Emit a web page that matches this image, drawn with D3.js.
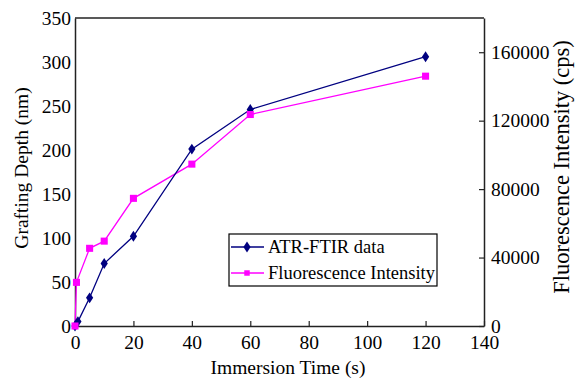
<!DOCTYPE html>
<html>
<head>
<meta charset="utf-8">
<script src="https://cdn.jsdelivr.net/npm/d3@7"></script>
<style>
  body { margin: 0; background: #fff; }
  svg text { font-family: "Liberation Serif", "Times New Roman", serif; fill: #000; }
</style>
</head>
<body>
<svg id="chart"></svg>
<script>
// immersion time (s)
const atrTime = [0, 1, 5, 10, 20, 40, 60, 120];
const atrDepth = [0, 5, 32, 71, 102, 201, 246, 306];
const fluoTime = [0, 0.5, 5, 10, 20, 40, 60, 120];
const fluoIntensity = [0, 25500, 45400, 49600, 74600, 94600, 123600, 146000];
const xTicks = [0, 20, 40, 60, 80, 100, 120, 140];
const leftTicks = [0, 50, 100, 150, 200, 250, 300, 350];
const rightTicks = [0, 40000, 80000, 120000, 160000];

const width = 576, height = 378;
const margin = { top: 18, right: 92, bottom: 52, left: 75 };
const innerW = width - margin.left - margin.right;
const innerH = height - margin.top - margin.bottom;
const serif = '"Liberation Serif", "Times New Roman", serif';

const svg = d3.select("#chart").attr("width", width).attr("height", height);
const g = svg.append("g").attr("transform", `translate(${margin.left},${margin.top})`);

const x = d3.scaleLinear().domain([0, 140]).range([0, innerW]);
const yL = d3.scaleLinear().domain([0, 350]).range([innerH, 0]);
const yR = d3.scaleLinear().domain([0, 180000]).range([innerH, 0]);

// bottom axis, ticks pointing inward
const xAxis = g.append("g")
  .attr("transform", `translate(0,${innerH})`)
  .call(d3.axisBottom(x).tickValues(xTicks).tickSizeInner(-5).tickSizeOuter(0).tickPadding(9));

// left axis without visible ticks
const yAxisL = g.append("g")
  .call(d3.axisLeft(yL).tickValues(leftTicks).tickSize(0).tickPadding(4));

// right axis, inward ticks
const yAxisR = g.append("g")
  .attr("transform", `translate(${innerW},0)`)
  .call(d3.axisRight(yR).tickValues(rightTicks).tickFormat(d3.format("d"))
    .tickSizeInner(-5).tickSizeOuter(0).tickPadding(7));

[xAxis, yAxisL, yAxisR].forEach(a => {
  a.attr("font-family", serif).attr("font-size", 19.5);
  a.selectAll("text").style("font-family", serif).style("font-size", "19.5px");
});

// top border
g.append("line")
  .attr("x1", 0).attr("x2", innerW).attr("y1", 0).attr("y2", 0)
  .attr("stroke", "#222").attr("stroke-width", 1.5);

g.selectAll(".domain").attr("stroke", "#222").attr("stroke-width", 1.5);
g.selectAll(".tick line").attr("stroke", "#222").attr("stroke-width", 1.2);

// series
const atr = atrTime.map((t, i) => [t, atrDepth[i]]);
const fluo = fluoTime.map((t, i) => [t, fluoIntensity[i]]);

g.append("path")
  .datum(fluo)
  .attr("fill", "none")
  .attr("stroke", "#ff00ff")
  .attr("stroke-width", 1.3)
  .attr("d", d3.line().x(d => x(d[0])).y(d => yR(d[1])));

g.append("path")
  .datum(atr)
  .attr("fill", "none")
  .attr("stroke", "#000080")
  .attr("stroke-width", 1.3)
  .attr("d", d3.line().x(d => x(d[0])).y(d => yL(d[1])));

const diamond = d3.symbol().type(d3.symbolDiamond).size(34);
const square = d3.symbol().type(d3.symbolSquare).size(50);

g.selectAll(".atr-pt")
  .data(atr)
  .join("path")
  .attr("class", "atr-pt")
  .attr("transform", d => `translate(${x(d[0])},${yL(d[1])}) scale(1.15,1)`)
  .attr("d", diamond)
  .attr("fill", "#000080");

g.selectAll(".fluo-pt")
  .data(fluo)
  .join("path")
  .attr("class", "fluo-pt")
  .attr("transform", d => `translate(${x(d[0])},${yR(d[1])})`)
  .attr("d", square)
  .attr("fill", "#ff00ff");

// axis titles
svg.append("text")
  .attr("x", 288).attr("y", 374)
  .attr("text-anchor", "middle")
  .style("font-size", "19.5px")
  .text("Immersion Time (s)");

svg.append("text")
  .attr("transform", "translate(28,168) rotate(-90)")
  .attr("text-anchor", "middle")
  .style("font-size", "19.5px")
  .text("Grafting Depth (nm)");

svg.append("text")
  .attr("transform", "translate(569,167) rotate(-90)")
  .attr("text-anchor", "middle")
  .style("font-size", "22.5px")
  .text("Fluorescence Intensity (cps)");

// legend
const legend = svg.append("g").attr("transform", "translate(229,234)");
legend.append("rect")
  .attr("width", 208).attr("height", 52)
  .attr("fill", "#fff").attr("stroke", "#000").attr("stroke-width", 1.2);

const items = [
  { label: "ATR-FTIR data", color: "#000080", sym: diamond, sx: 1.15 },
  { label: "Fluorescence Intensity", color: "#ff00ff", sym: d3.symbol().type(d3.symbolSquare).size(30), sx: 1 }
];
items.forEach((it, i) => {
  const yy = 13 + i * 26;
  legend.append("line")
    .attr("x1", 2).attr("x2", 35).attr("y1", yy).attr("y2", yy)
    .attr("stroke", it.color).attr("stroke-width", 1.3);
  legend.append("path")
    .attr("transform", `translate(18,${yy}) scale(${it.sx},1)`)
    .attr("d", it.sym)
    .attr("fill", it.color);
  legend.append("text")
    .attr("x", 39).attr("y", yy + 6)
    .style("font-size", "18.5px")
    .text(it.label);
});
</script>
</body>
</html>
